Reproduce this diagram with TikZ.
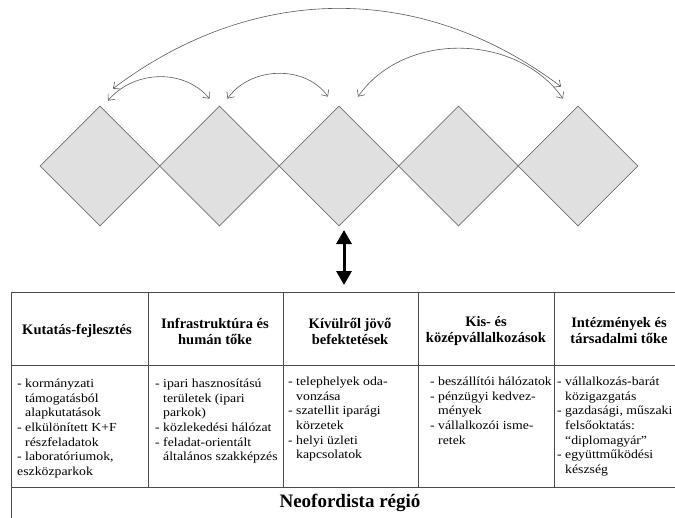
\documentclass[tikz,border=0pt]{standalone}
\usepackage{fontspec}
\setmainfont{Liberation Serif}
\newfontfamily\bodyfont{Liberation Serif}[FakeStretch=1.12]
\usetikzlibrary{shapes.geometric,arrows.meta}
\definecolor{diafill}{HTML}{E0E0E0}
\definecolor{diaedge}{HTML}{707070}
\definecolor{arcgray}{HTML}{5A5A5A}
\definecolor{rulegray}{HTML}{4A4A4A}
\begin{document}
\begin{tikzpicture}[x=1pt,y=1pt,
    dia/.style={diamond,draw=diaedge,fill=diafill,line width=0.7pt,minimum width=120pt,minimum height=120pt,inner sep=0pt},
    linkarrow/.style={arcgray,line width=0.6pt,{Straight Barb[length=5pt,width=9pt]}-{Straight Barb[length=5pt,width=9pt]}},
    bigarrow/.style={line width=3pt,{Triangle[length=14pt,width=15pt]}-{Triangle[length=14pt,width=15pt]}},
    tablerule/.style={rulegray,line width=1pt},
    headtext/.style={align=center,inner sep=0pt,font=\bfseries\fontsize{14.5}{16}\selectfont},
    celltext/.style={align=left,anchor=north west,inner sep=0pt,font=\bodyfont\fontsize{12.3}{14.6}\selectfont},
    regiontitle/.style={inner sep=0pt,font=\bfseries\fontsize{19}{22}\selectfont}]
    \useasboundingbox (0,0) rectangle (675,-517);
    \clip (0,0) rectangle (675,-517);
    % diamonds
    \foreach \i in {1,...,5}
        \node[dia] (d\i) at ({100+119.5*(\i-1)},-166) {};
    \draw[linkarrow] ([shift={(8,5)}]d1.north) to[out=50,in=130] ([shift={(-10,7)}]d2.north);
    \draw[linkarrow] ([shift={(8,7)}]d2.north) to[out=55,in=125] ([shift={(-11,9)}]d3.north);
    \draw[linkarrow] ([shift={(19,9)}]d3.north) to[out=55,in=125] ([shift={(-15,7)}]d5.north);
    \draw[linkarrow] ([shift={(13,17)}]d1.north) to[out=37,in=143] ([shift={(-17,19)}]d5.north);
    \coordinate (up) at (344,-230);
    \coordinate (down) at (344,-285);
    \draw[bigarrow] (up) -- (down);
    % table
    \draw[tablerule] (11,-292) -- (690,-292);
    \draw[tablerule] (11,-365) -- (690,-365);
    \draw[tablerule] (11,-487) -- (690,-487);
    \draw[tablerule] (11,-292) -- (11,-530);
    \foreach \x in {148,283,418,554,684}
        \draw[tablerule] (\x,-292) -- (\x,-487);
    \node[headtext] (h1) at (77,-331) {Kutatás-fejlesztés};
    \node[headtext] (h2) at (215,-331) {Infrastruktúra és\\humán tőke};
    \node[headtext] (h3) at (350,-331) {Kívülről jövő\\befektetések};
    \node[headtext] (h4) at (486,-331) {Kis- és\\középvállalkozások};
    \node[headtext] (h5) at (619,-331) {Intézmények és\\társadalmi tőke};
    \node[celltext] (b1) at (17,-379) {- kormányzati\\\hphantom{- }támogatásból\\\hphantom{- }alapkutatások\\- elkülönített K+F\\\hphantom{- }részfeladatok\\- laboratóriumok,\\eszközparkok};
    \node[celltext] (b2) at (155,-379) {- ipari hasznosítású\\\hphantom{- }területek (ipari\\\hphantom{- }parkok)\\- közlekedési hálózat\\- feladat-orientált\\\hphantom{- }általános szakképzés};
    \node[celltext] (b3) at (288,-377) {- telephelyek oda-\\\hphantom{- }vonzása\\- szatellit iparági\\\hphantom{- }körzetek\\- helyi üzleti\\\hphantom{- }kapcsolatok};
    \node[celltext] (b4) at (430,-377) {- beszállítói hálózatok\\- pénzügyi kedvez-\\\hphantom{- }mények\\- vállalkozói isme-\\\hphantom{- }retek};
    \node[celltext] (b5) at (557,-377) {- vállalkozás-barát\\\hphantom{- }közigazgatás\\- gazdasági, műszaki\\\hphantom{- }felsőoktatás:\\\hphantom{- }“diplomagyár”\\- együttműködési\\\hphantom{- }készség};
    \node[regiontitle] (t) at (350,-503) {Neofordista régió};
\end{tikzpicture}
\end{document}
